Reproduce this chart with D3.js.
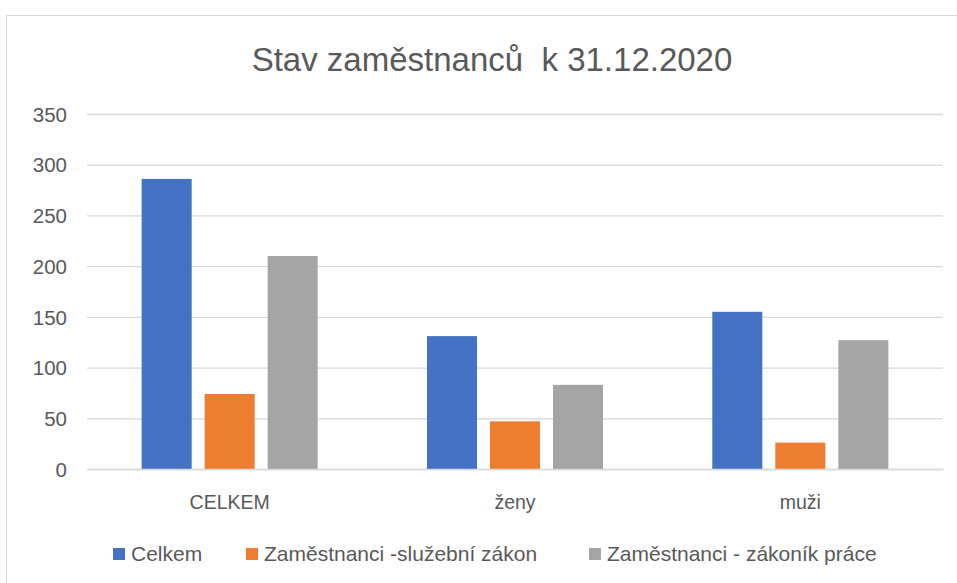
<!DOCTYPE html>
<html><head><meta charset="utf-8">
<script src="https://cdn.jsdelivr.net/npm/d3@7"></script>
<style>body{margin:0;background:#fff}svg{display:block}text{font-family:"Liberation Sans",Arial,sans-serif;white-space:pre}</style>
</head><body>
<svg id="c" width="957" height="583"></svg>
<script>
const categories = ["CELKEM", "ženy", "muži"];
const seriesNames = ["Celkem", "Zaměstnanci -služební zákon", "Zaměstnanci - zákoník práce"];
const celkem = [286, 131, 155];
const sluzebni = [74, 47, 26];
const zakonik = [210, 83, 127];
const yTicks = [0, 50, 100, 150, 200, 250, 300, 350];
const colors = ["#4472c4", "#ed7d31", "#a5a5a5"];

(function () {
const series = [celkem, sluzebni, zakonik];
const svg = d3.select("#c");
const pL = 87, pR = 943, pT = 114, pB = 469;

svg.append("rect").attr("x", 6.5).attr("y", 15.5).attr("width", 970).attr("height", 600)
  .attr("fill", "#fff").attr("stroke", "#d9d9d9").attr("stroke-width", 1);

const x = d3.scaleBand().domain(categories).range([pL, pR]);
const xs = d3.scaleBand().domain(d3.range(3)).range([0, x.bandwidth()]).paddingOuter(0.867).paddingInner(0.206);
const y = d3.scaleLinear().domain([0, 350]).range([pB, pT]);

const yAxis = d3.axisLeft(y).tickValues(yTicks).tickSize(-(pR - pL)).tickPadding(20);
const gy = svg.append("g").attr("transform", `translate(${pL},0)`).call(yAxis);
gy.select(".domain").remove();
gy.selectAll(".tick line").attr("stroke", "#d9d9d9").attr("stroke-width", 1.3);
gy.selectAll(".tick text").attr("fill", "#595959").attr("font-size", 20.5).attr("x", -20).attr("dy", "0.35em");

const g = svg.append("g");
categories.forEach((c, i) => {
  series.forEach((s, j) => {
    g.append("rect")
      .attr("x", x(c) + xs(j)).attr("width", xs.bandwidth())
      .attr("y", y(s[i])).attr("height", y(0) - y(s[i]))
      .attr("fill", colors[j]);
  });
});

const xAxis = d3.axisBottom(x).tickSize(0).tickPadding(0);
const gx = svg.append("g").attr("transform", `translate(0,${pB})`).call(xAxis);
gx.select(".domain").attr("stroke", "#d9d9d9").attr("stroke-width", 1.3);
gx.selectAll(".tick text").attr("fill", "#595959").attr("font-size", 19.5).attr("y", 40).attr("dy", 0);

svg.append("text").attr("x", 492).attr("y", 71).attr("text-anchor", "middle")
  .attr("fill", "#595959").attr("font-size", 33).text("Stav zaměstnanců  k 31.12.2020");

const legX = [113, 246, 589];
seriesNames.forEach((n, j) => {
  svg.append("rect").attr("x", legX[j]).attr("y", 548).attr("width", 12).attr("height", 12).attr("fill", colors[j]);
  svg.append("text").attr("x", legX[j] + 18).attr("y", 561).attr("fill", "#595959").attr("font-size", 21).text(n);
});
})();
</script>
</body></html>
